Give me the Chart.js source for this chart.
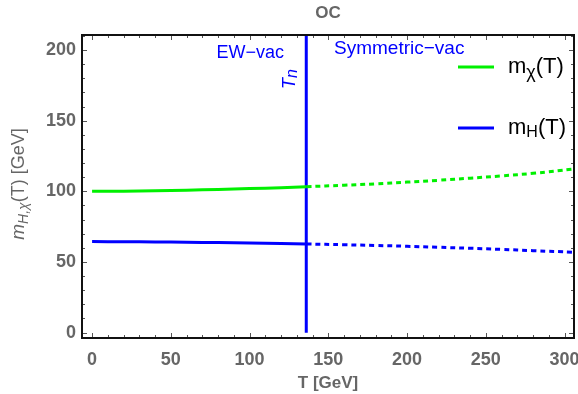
<!DOCTYPE html>
<html>
<head>
<meta charset="utf-8">
<script src="https://cdn.jsdelivr.net/npm/chart.js@4.4.0/dist/chart.umd.min.js"></script>
<style>
  html, body { margin: 0; padding: 0; background: #fff; }
  #wrap { width: 578px; height: 394px; }
</style>
</head>
<body>
<div id="wrap"><canvas id="myChart"></canvas></div>
<script>
// temperatures (GeV)
const tEW = [0, 20, 40, 60, 80, 100, 120, 136];
const tSym = [136, 160, 180, 200, 220, 240, 260, 280, 306];
// m_chi(T)
const mChiEW = [100, 100.1, 100.4, 100.8, 101.3, 101.9, 102.6, 103.3];
const mChiSym = [103.3, 104.3, 105.3, 106.5, 107.8, 109.3, 110.9, 112.7, 115.8];
// m_H(T)
const mHEW = [64.4, 64.3, 64.2, 64.0, 63.7, 63.5, 63.1, 62.7];
const mHSym = [62.7, 62.2, 61.7, 61.1, 60.4, 59.7, 58.9, 58.0, 56.9];
// nucleation temperature line
const tNuc = 136;
const xTicks = [0, 50, 100, 150, 200, 250, 300];
const yTicks = [0, 50, 100, 150, 200];

const X_MIN = -6.4, X_MAX = 306, Y_MIN = -3.8, Y_MAX = 210.6;
const GREEN = "#00f000", BLUE = "#0000ff", GRAY = "#666666";
const FONT = "'Liberation Sans', Arial, sans-serif";

function pts(xs, ys) {
  return xs.map((x, i) => ({ x: x, y: ys[i] }));
}

// draw a run of text pieces: [text, font, dy]
function drawRich(ctx, parts, x, y) {
  let cx = x;
  parts.forEach((p) => {
    ctx.font = p[1];
    ctx.fillText(p[0], cx, y + (p[2] || 0));
    cx += ctx.measureText(p[0]).width;
  });
  return cx - x;
}
function richWidth(ctx, parts) {
  let w = 0;
  parts.forEach((p) => { ctx.font = p[1]; w += ctx.measureText(p[0]).width; });
  return w;
}

const decor = {
  id: "decor",
  afterDraw(chart) {
    const ctx = chart.ctx;
    const a = chart.chartArea;
    const xs = chart.scales.x, ys = chart.scales.y;
    ctx.save();

    // inside ticks on all four sides
    ctx.strokeStyle = "#555";
    ctx.lineWidth = 1;
    for (let v = 0; v <= 300; v += 10) {
      const px = Math.round(xs.getPixelForValue(v)) + 0.5;
      const len = v % 50 === 0 ? 5 : 3;
      ctx.beginPath();
      ctx.moveTo(px, a.bottom); ctx.lineTo(px, a.bottom - len);
      ctx.moveTo(px, a.top); ctx.lineTo(px, a.top + len);
      ctx.stroke();
    }
    for (let v = 0; v <= 210; v += 10) {
      const py = Math.round(ys.getPixelForValue(v)) + 0.5;
      const len = v % 50 === 0 ? 5 : 3;
      ctx.beginPath();
      ctx.moveTo(a.left, py); ctx.lineTo(a.left + len, py);
      ctx.moveTo(a.right, py); ctx.lineTo(a.right - len, py);
      ctx.stroke();
    }

    // frame
    ctx.strokeStyle = "#111";
    ctx.lineWidth = 2;
    ctx.strokeRect(a.left, a.top, a.right - a.left, a.bottom - a.top);

    // title
    ctx.fillStyle = GRAY;
    ctx.font = "bold 17px " + FONT;
    ctx.textAlign = "center";
    ctx.textBaseline = "middle";
    ctx.fillText("OC", (a.left + a.right) / 2, 13);

    // y axis title, rotated
    ctx.textAlign = "left";
    ctx.textBaseline = "middle";
    const yParts = [
      ["m", "italic 19px " + FONT, 0],
      ["H,\u03c7", "italic 14px " + FONT, 5],
      ["(T) [GeV]", "18px " + FONT, 0]
    ];
    ctx.save();
    ctx.translate(19, 184);
    ctx.rotate(-Math.PI / 2);
    drawRich(ctx, yParts, -richWidth(ctx, yParts) / 2, 0);
    ctx.restore();

    // region labels
    ctx.fillStyle = BLUE;
    ctx.font = "18px " + FONT;
    ctx.textAlign = "right";
    ctx.fillText("EW\u2212vac", 284, 53);
    ctx.textAlign = "left";
    ctx.font = "19px " + FONT;
    ctx.fillText("Symmetric\u2212vac", 334, 49);

    // T_n rotated
    ctx.save();
    ctx.translate(290, 89);
    ctx.rotate(-Math.PI / 2);
    ctx.textBaseline = "middle";
    drawRich(ctx, [["T", "italic 18px " + FONT, 0], ["n", "italic 16px " + FONT, 3]], 0, 0);
    ctx.restore();

    // legend
    const leg = [
      [GREEN, [["m", "22px " + FONT, 0], ["\u03c7", "18px " + FONT, 6], ["(T)", "22px " + FONT, 0]], 67],
      [BLUE, [["m", "22px " + FONT, 0], ["H", "16px " + FONT, 5], ["(T)", "22px " + FONT, 0]], 128]
    ];
    leg.forEach((l) => {
      ctx.strokeStyle = l[0];
      ctx.lineWidth = 3;
      ctx.beginPath();
      ctx.moveTo(458, l[2]); ctx.lineTo(494, l[2]);
      ctx.stroke();
      ctx.fillStyle = "#000";
      ctx.textAlign = "left";
      ctx.textBaseline = "middle";
      drawRich(ctx, l[1], 508, l[2]);
    });

    ctx.restore();
  }
};

const ctx = document.getElementById("myChart").getContext("2d");
const myChart = new Chart(ctx, {
  type: "line",
  data: {
    datasets: [
      {
        label: "m_chi EW",
        data: pts(tEW, mChiEW),
        borderColor: GREEN,
        borderWidth: 3,
        tension: 0.4
      },
      {
        label: "m_chi sym",
        data: pts(tSym, mChiSym),
        borderColor: GREEN,
        borderWidth: 3,
        borderDash: [5, 4],
        tension: 0.4
      },
      {
        label: "m_H EW",
        data: pts(tEW, mHEW),
        borderColor: BLUE,
        borderWidth: 3,
        tension: 0.4
      },
      {
        label: "m_H sym",
        data: pts(tSym, mHSym),
        borderColor: BLUE,
        borderWidth: 3,
        borderDash: [5, 4],
        tension: 0.4
      },
      {
        label: "T_n",
        data: [{ x: tNuc, y: 0 }, { x: tNuc, y: Y_MAX }],
        borderColor: BLUE,
        borderWidth: 3
      }
    ]
  },
  options: {
    responsive: true,
    maintainAspectRatio: false,
    animation: false,
    devicePixelRatio: 1,
    layout: { padding: { top: 35, right: 4, left: 0, bottom: 0 } },
    elements: { point: { radius: 0 } },
    plugins: {
      legend: { display: false },
      tooltip: { enabled: false }
    },
    scales: {
      x: {
        type: "linear",
        min: X_MIN,
        max: X_MAX,
        grid: { display: false, drawTicks: false },
        border: { display: false },
        afterBuildTicks: (s) => { s.ticks = xTicks.map((v) => ({ value: v })); },
        afterFit: (s) => { s.height = 56; s.paddingLeft = 0; s.paddingRight = 0; },
        ticks: {
          padding: 11,
          color: GRAY,
          maxRotation: 0,
          font: { family: FONT, size: 18, weight: "bold" }
        },
        title: {
          display: true,
          text: "T [GeV]",
          color: GRAY,
          padding: { top: 0, bottom: 0 },
          font: { family: FONT, size: 17, weight: "bold" }
        }
      },
      y: {
        type: "linear",
        min: Y_MIN,
        max: Y_MAX,
        grid: { display: false, drawTicks: false },
        border: { display: false },
        afterBuildTicks: (s) => { s.ticks = yTicks.map((v) => ({ value: v })); },
        afterFit: (s) => { s.width = 82; s.paddingTop = 0; s.paddingBottom = 0; },
        ticks: {
          padding: 6,
          color: GRAY,
          font: { family: FONT, size: 18, weight: "bold" }
        }
      }
    }
  },
  plugins: [decor]
});
</script>
</body>
</html>
